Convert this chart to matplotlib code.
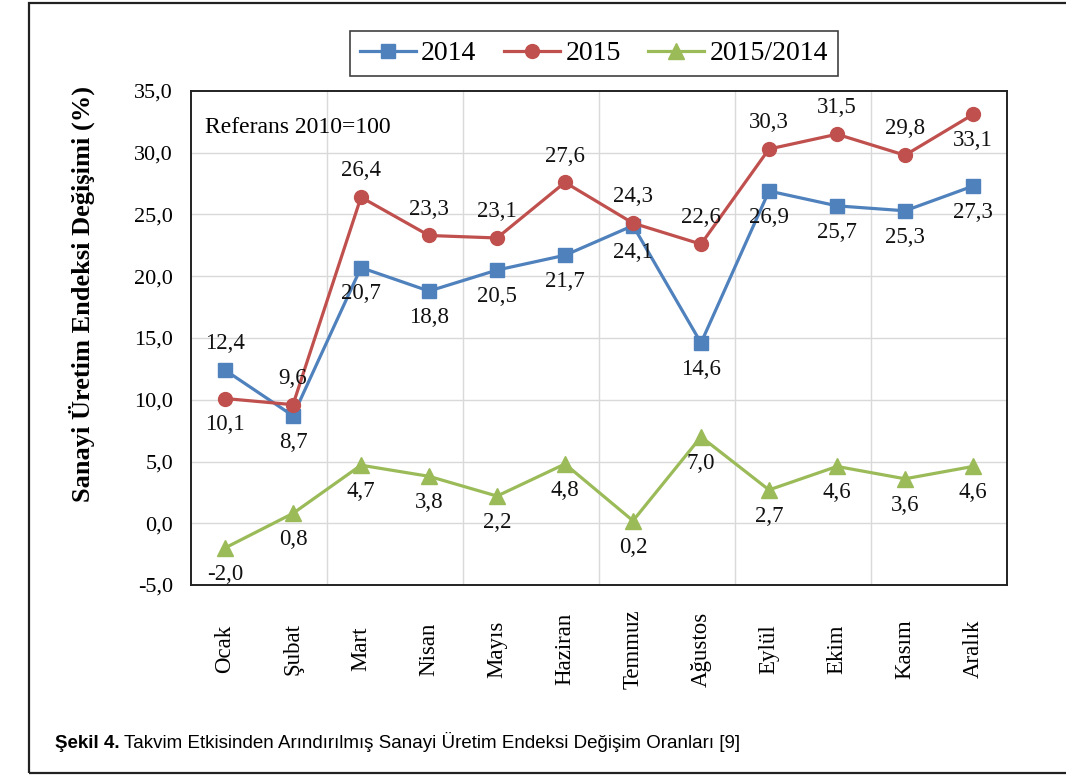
import numpy as np
import matplotlib
matplotlib.use("Agg")
import matplotlib.pyplot as plt
from matplotlib.patches import Rectangle
from matplotlib.ticker import FuncFormatter, MultipleLocator

plt.rcParams['font.family'] = ['Liberation Serif', 'DejaVu Serif']
plt.rcParams['axes.unicode_minus'] = False

# --- veri ---
aylar = ['Ocak', 'Şubat', 'Mart', 'Nisan', 'Mayıs', 'Haziran', 'Temmuz',
         'Ağustos', 'Eylül', 'Ekim', 'Kasım', 'Aralık']
y2014 = [12.4, 8.7, 20.7, 18.8, 20.5, 21.7, 24.1, 14.6, 26.9, 25.7, 25.3, 27.3]
y2015 = [10.1, 9.6, 26.4, 23.3, 23.1, 27.6, 24.3, 22.6, 30.3, 31.5, 29.8, 33.1]
oran = [-2.0, 0.8, 4.7, 3.8, 2.2, 4.8, 0.2, 7.0, 2.7, 4.6, 3.6, 4.6]

# etiket yerleri (ustte / altta)
yer2014 = ['ust'] + ['alt'] * 11
yer2015 = ['alt'] + ['ust'] * 10 + ['alt']
yer_oran = ['alt'] * 12

MAVI = '#4F81BD'
KIRMIZI = '#C0504D'
YESIL = '#9BBB59'

fig = plt.figure(figsize=(10.66, 7.76), dpi=100)
ax = fig.add_axes([191 / 1066, 1 - 585 / 776, 816 / 1066, 494 / 776])

x = np.arange(len(aylar))

l1, = ax.plot(x, y2014, color=MAVI, lw=2.3, marker='s', ms=10, label='2014', zorder=3)
l2, = ax.plot(x, y2015, color=KIRMIZI, lw=2.3, marker='o', ms=10, label='2015', zorder=3)
l3, = ax.plot(x, oran, color=YESIL, lw=2.3, marker='^', ms=12, label='2015/2014', zorder=3)


def etiketle(vals, yerler):
    for xi, v, yer in zip(x, vals, yerler):
        dy = 19 if yer == 'ust' else -19
        ax.annotate(f'{v:.1f}'.replace('.', ','), (xi, v), xytext=(0, dy),
                    textcoords='offset points', ha='center', va='center',
                    fontsize=16.5, color='#111111', zorder=4)


etiketle(y2014, yer2014)
etiketle(y2015, yer2015)
etiketle(oran, yer_oran)

ax.set_xlim(-0.5, len(aylar) - 0.5)
ax.set_ylim(-5, 35)
ax.yaxis.set_major_locator(MultipleLocator(5))
ax.yaxis.set_major_formatter(FuncFormatter(lambda v, p: f'{v:.1f}'.replace('.', ',')))
ax.set_xticks(x)
ax.set_xticklabels(aylar, rotation=90)
for lab in ax.get_xticklabels():
    lab.set_va('center')
ax.tick_params(axis='x', length=0, pad=46, labelsize=16.5)
ax.tick_params(axis='y', length=0, pad=13, labelsize=16)

# Excel tarzi izgara: yatay her 5'te, dikey iki ayda bir
for yv in np.arange(0, 35, 5):
    ax.axhline(yv, color='#d9d9d9', lw=1, zorder=1)
for xv in np.arange(1.5, len(aylar) - 1, 2):
    ax.axvline(xv, color='#d9d9d9', lw=1, zorder=1)

for sp in ax.spines.values():
    sp.set_color('#222222')
    sp.set_linewidth(1.4)

ax.set_ylabel('Sanayi Üretim Endeksi Değişimi (%)', fontsize=19, fontweight='bold')
ax.yaxis.set_label_coords(-0.1176, 0.59)

ax.text(0.017, 0.927, 'Referans 2010=100', transform=ax.transAxes,
        ha='left', va='center', fontsize=17)

leg = fig.legend(handles=[l1, l2, l3], loc='center',
                 bbox_to_anchor=(594 / 1066, 1 - 53.5 / 776), ncol=3,
                 fontsize=20, frameon=True, fancybox=False, handlelength=2.0,
                 handletextpad=0.2, columnspacing=1.0, borderpad=0.35)
leg.get_frame().set_edgecolor('#111111')
leg.get_frame().set_linewidth(1.2)

# dis cerceve
fig.add_artist(Rectangle((29 / 1066, 3 / 776), 1.2, 770 / 776, transform=fig.transFigure,
                         fill=False, ec='#222222', lw=1.6, clip_on=False))

# alt yazi
cap_font = ['Liberation Sans Narrow', 'Liberation Sans', 'DejaVu Sans']
t1 = fig.text(55 / 1066, 1 - 748 / 776, 'Şekil 4.', fontsize=13.5, fontweight='bold',
              family=cap_font, va='baseline', ha='left')
fig.canvas.draw()
bb = t1.get_window_extent(renderer=fig.canvas.get_renderer())
fig.text(bb.x1 / 1066 + 4 / 1066, 1 - 748 / 776,
         'Takvim Etkisinden Arındırılmış Sanayi Üretim Endeksi Değişim Oranları [9]',
         fontsize=13.5, family=cap_font, va='baseline', ha='left')

fig.savefig('out.png', dpi=100)
